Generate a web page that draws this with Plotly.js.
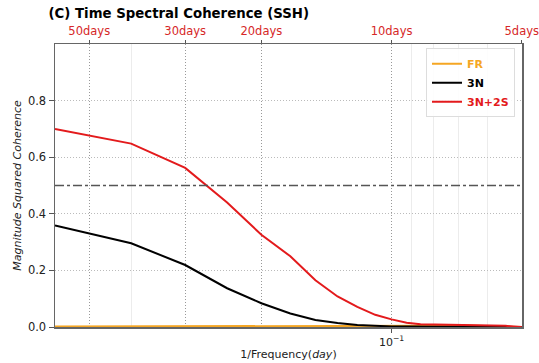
<!DOCTYPE html>
<html>
<head>
<meta charset="utf-8">
<script src="https://cdn.plot.ly/plotly-3.0.1.min.js"></script>
<style>html,body{margin:0;padding:0;background:#fff;}#chart{width:539px;height:363px;}</style>
</head>
<body>
<div id="chart"></div>
<script>
// Frequencies (1/day): k/120 for k = 2..24
const freqIndex = [2,3,4,5,6,7,8,9,10,11,12,13,14,15,16,17,18,19,20,21,22,23,24];
const freq = freqIndex.map(k => k / 120);
const cohFR   = [0.002,0.002,0.002,0.002,0.002,0.002,0.002,0.002,0.002,0.002,0.002,0.003,0.004,0.005,0.006,0.006,0.005,0.004,0.003,0.002,0.001,0.001,0.0];
const coh3N   = [0.359,0.296,0.219,0.137,0.084,0.048,0.025,0.014,0.007,0.004,0.002,0.002,0.002,0.002,0.002,0.002,0.002,0.002,0.002,0.001,0.001,0.001,0.0];
const coh3N2S = [0.700,0.648,0.562,0.440,0.326,0.250,0.165,0.108,0.071,0.043,0.027,0.015,0.010,0.009,0.009,0.009,0.008,0.008,0.007,0.006,0.004,0.002,0.0];
const topTickPeriods = [50,30,20,10,5];
const topTickText = ['50days','30days','20days','10days','5days'];
const minorPeriods = [40,9,8,7,6];
const yTicks = [0.0,0.2,0.4,0.6,0.8];
const threshold = 0.5;

const traces = [
  {x: freq, y: cohFR, mode:'lines', name:'<span style="color:#f5a623"><b>FR</b></span>', line:{color:'#f5a623', width:2}},
  {x: freq, y: coh3N, mode:'lines', name:'<span style="color:#000000"><b>3N</b></span>', line:{color:'#000000', width:2}},
  {x: freq, y: coh3N2S, mode:'lines', name:'<span style="color:#e31a1c"><b>3N+2S</b></span>', line:{color:'#e31a1c', width:2}},
  {x: freq, y: coh3N, xaxis:'x2', mode:'lines', showlegend:false, hoverinfo:'skip', line:{width:0}, opacity:0}
];

const xr = [Math.log10(1/60), Math.log10(1/5) + 0.0005];
const layout = {
  width:539, height:363,
  margin:{l:55, r:17, t:44, b:36},
  paper_bgcolor:'#fff', plot_bgcolor:'#fff',
  font:{family:'DejaVu Sans', size:11, color:'#222'},
  title:{text:'<b>(C) Time Spectral Coherence (SSH)</b>', x:0.09, xanchor:'left', y:0.975, yanchor:'top', font:{size:13.3, color:'#000'}},
  xaxis:{type:'log', range:xr, tickvals:[0.1], ticktext:['10<sup>−1</sup>'], ticks:'outside', ticklen:4, tickcolor:'#555',
    showgrid:false, zeroline:false, showline:true, linecolor:'#666', linewidth:1.5,
    title:{text:'1/Frequency(<i>day</i>)', font:{size:11}, standoff:2}, tickfont:{size:11}},
  xaxis2:{type:'log', range:xr, overlaying:'x', side:'top', anchor:'y',
    tickvals: topTickPeriods.map(p => 1/p), ticktext: topTickText, tickfont:{size:11.5, color:'#d62728'},
    ticklabeloverflow:'allow',
    ticks:'outside', ticklen:3, tickcolor:'#555',
    showgrid:true, gridcolor:'#999999', griddash:'1px,2px', gridwidth:1,
    minor:{tickmode:'array', tickvals: minorPeriods.map(p => 1/p), showgrid:true, gridcolor:'#ececec', griddash:'solid', gridwidth:1, ticks:''},
    showline:true, linecolor:'#666', linewidth:1.5, zeroline:false},
  yaxis:{range:[0,1.0], tickvals:yTicks, ticktext:yTicks.map(v => v.toFixed(1)), ticks:'outside', ticklen:5, tickcolor:'#555',
    showgrid:true, gridcolor:'#bbbbbb', griddash:'1px,2px', zeroline:false, showline:true, mirror:true, linecolor:'#666', linewidth:1.5,
    title:{text:'<i>Magnitude Squared Coherence</i>', font:{size:11}, standoff:4}, tickfont:{size:11.5}},
  legend:{x:0.985, y:0.985, xanchor:'right', yanchor:'top', bgcolor:'rgba(255,255,255,0.9)', bordercolor:'#dddddd', borderwidth:1,
    font:{size:11}, tracegroupgap:0, itemwidth:30},
  shapes:[{type:'line', xref:'paper', x0:0, x1:1, yref:'y', y0:threshold, y1:threshold, line:{color:'#555', width:1.5, dash:'dashdot'}}],
  showlegend:true
};
Plotly.newPlot('chart', traces, layout, {displayModeBar:false, staticPlot:true});
</script>
</body>
</html>
